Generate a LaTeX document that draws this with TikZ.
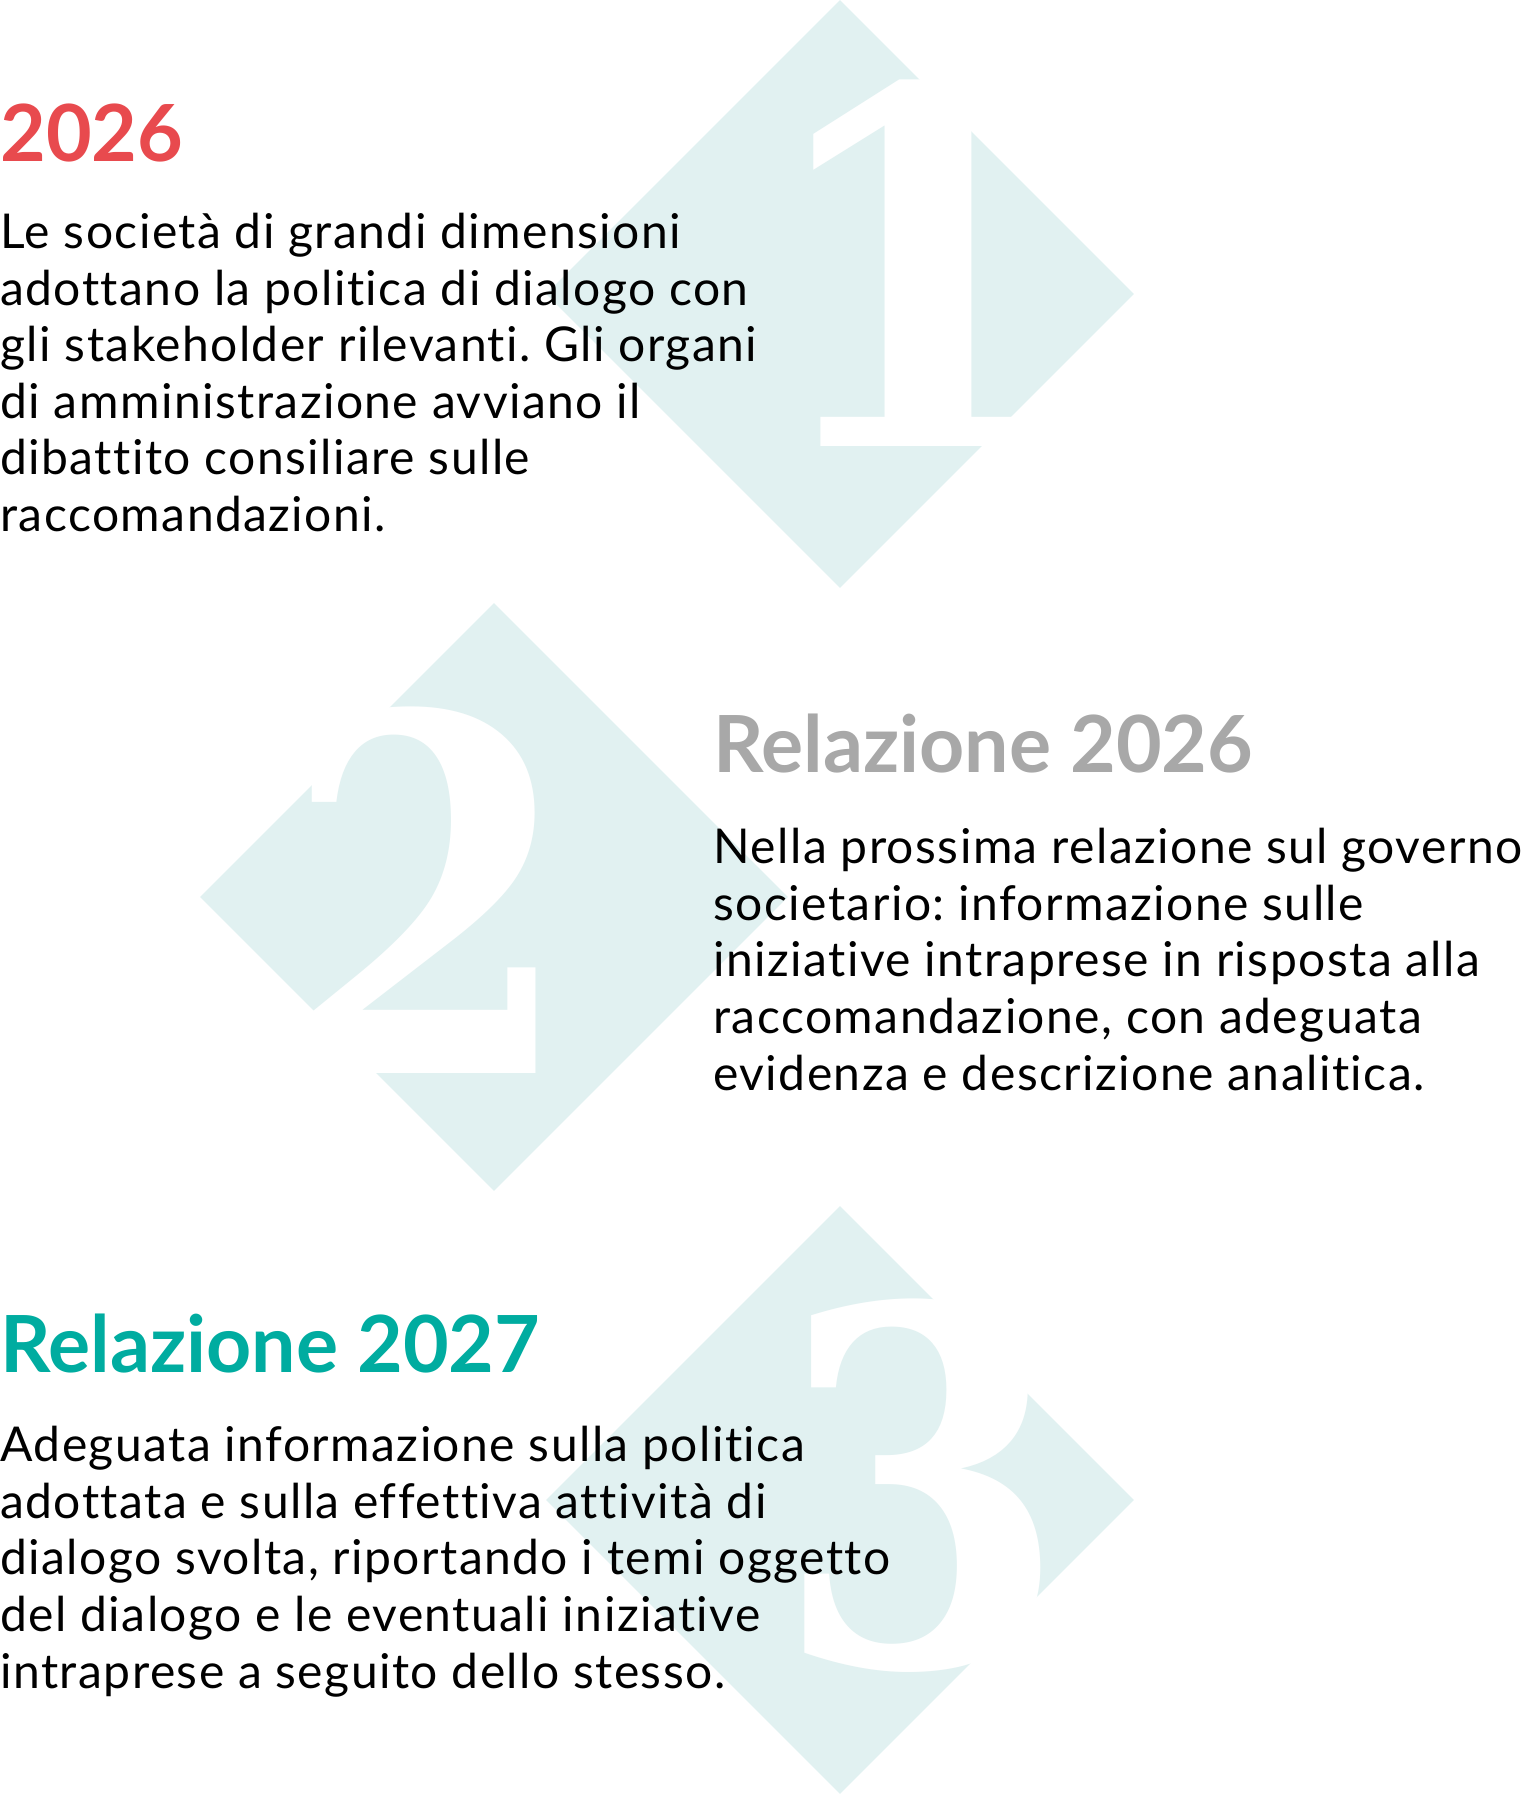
\documentclass[tikz,border=0pt]{standalone}
\usepackage{fontspec}
\usepackage{graphicx}
\usepackage{xcolor}
\setmainfont{Lato}
\newfontfamily\bodyfont[LetterSpace=3,Ligatures=NoCommon]{Lato}
\newfontfamily\digitfont{DejaVu Serif}
\usetikzlibrary{shapes.geometric,positioning,calc}

\definecolor{tealpale}{HTML}{E1F1F1}
\definecolor{yearred}{HTML}{E84A4E}
\definecolor{headgrey}{HTML}{A8A8A8}
\definecolor{headteal}{HTML}{00ACA0}

\frenchspacing

\begin{document}
\begin{tikzpicture}[
    x=0.5pt, y=-0.5pt,
    tile/.style={diamond, fill=tealpale, inner sep=0pt, minimum width=294pt, minimum height=294pt},
    numeral/.style={anchor=base, inner sep=0pt, text=white, font={\digitfont\bfseries\fontsize{247}{247}\selectfont}},
    heading/.style={anchor=base west, inner sep=0pt, font={\bfseries\fontsize{39.4}{46}\selectfont}},
    body/.style={anchor=base west, inner sep=0pt, align=left, font={\bodyfont\fontsize{24}{28.3}\selectfont}}
  ]
  \useasboundingbox (0,0) rectangle (1533,1812);

  % ============ DIAMONDS ============
  \node[tile] (d1) at (840,294) {};
  \node[tile] (d2) at (494,897) {};
  \node[tile] (d3) at (840,1500) {};

  % big white numbers
  \node[numeral] (n1) at (920,446) {\scalebox{0.95}[1]{1}};
  \node[numeral] (n2) at (428,1073) {\scalebox{0.85}[1]{2}};
  \node[numeral] (n3) at (922,1665) {\scalebox{0.85}[1]{3}};

  % ============ STEP 1 ============
  % (base of a body node = baseline of its last line)
  \node[heading, text=yearred] (h1) at (0,161) {2026};
  \node[body] (t1) at (0,531.5) {Le società di grandi dimensioni\\
    adottano la politica di dialogo con\\
    gli stakeholder rilevanti. Gli organi\\
    di amministrazione avviano il\\
    dibattito consiliare sulle\\
    raccomandazioni.};

  % ============ STEP 2 ============
  \node[heading, text=headgrey] (h2) at (713,772) {Relazione 2026};
  \node[body] (t2) at (713,1090) {Nella prossima relazione sul governo\\
    societario: informazione sulle\\
    iniziative intraprese in risposta alla\\
    raccomandazione, con adeguata\\
    evidenza e descrizione analitica.};

  % ============ STEP 3 ============
  \node[heading, text=headteal] (h3) at (0,1372) {Relazione 2027};
  \node[body] (t3) at (0,1688) {Adeguata informazione sulla politica\\
    adottata e sulla effettiva attività di\\
    dialogo svolta, riportando i temi oggetto\\
    del dialogo e le eventuali iniziative\\
    intraprese a seguito dello stesso.};

\end{tikzpicture}
\end{document}
